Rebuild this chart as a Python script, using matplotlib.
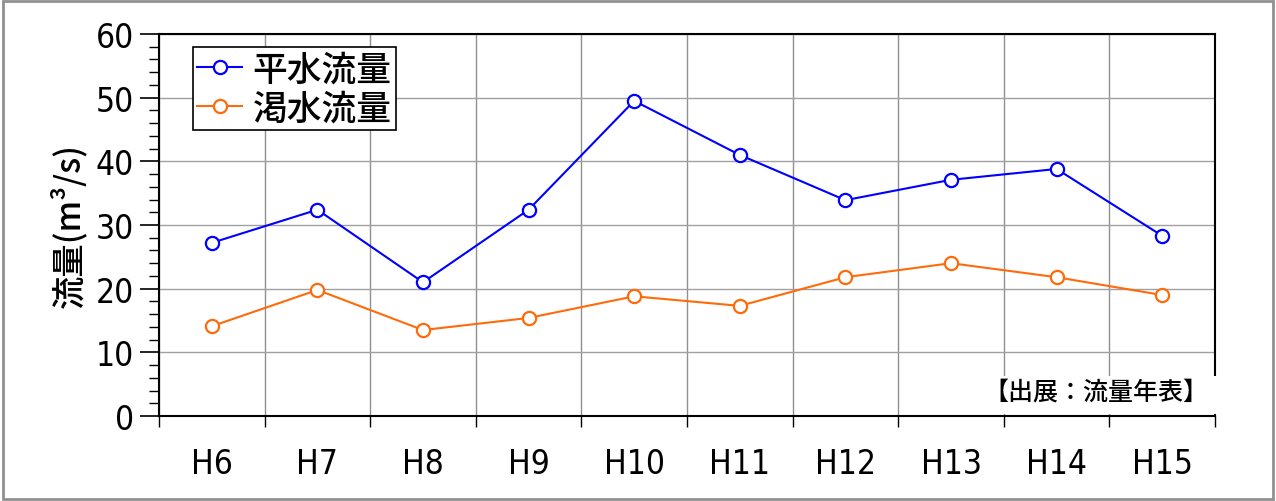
import numpy as np
import matplotlib
matplotlib.use("Agg")
import matplotlib.pyplot as plt
from matplotlib.ticker import MultipleLocator, FixedLocator

plt.rcParams['font.family'] = ['DejaVu Sans', 'Noto Sans CJK JP']
plt.rcParams['font.stretch'] = 'condensed'

years = ["H6", "H7", "H8", "H9", "H10", "H11", "H12", "H13", "H14", "H15"]
heisui = [27.2, 32.4, 21.0, 32.4, 49.5, 41.0, 33.9, 37.1, 38.8, 28.3]
kassui = [14.1, 19.8, 13.5, 15.4, 18.8, 17.3, 21.8, 24.0, 21.8, 19.0]

fig = plt.figure(figsize=(12.76, 5.02), dpi=100)
ax = fig.add_axes([159 / 1276, 1 - 417 / 502, (1215 - 159) / 1276, (417 - 35) / 502])

x = np.arange(len(years))
ax.plot(x, heisui, color="#0000ff", lw=1.5, marker="o", ms=9.5, mfc="white",
        mec="#0000ff", mew=1.6, label="平水流量", zorder=3)
ax.plot(x, kassui, color="#ff6a0a", lw=1.5, marker="o", ms=9.5, mfc="white",
        mec="#ff6a0a", mew=1.6, label="渇水流量", zorder=3)

ax.set_xlim(-0.5, len(years) - 0.5)
ax.set_ylim(0, 60)
ax.yaxis.set_major_locator(MultipleLocator(10))
ax.yaxis.set_minor_locator(MultipleLocator(2))
ax.xaxis.set_major_locator(FixedLocator(x))
ax.xaxis.set_minor_locator(FixedLocator(np.arange(len(years) + 1) - 0.5))
ax.set_xticklabels(years)

ax.tick_params(axis="y", which="major", direction="out", length=14, width=1.2,
               labelsize=24, pad=4)
ax.tick_params(axis="y", which="minor", direction="out", length=7, width=1.0)
ax.tick_params(axis="x", which="major", length=0, labelsize=24, pad=22)
ax.tick_params(axis="x", which="minor", direction="out", length=8, width=1.0)

ax.grid(True, which="major", axis="y", color="#a0a0a0", lw=1.0)
ax.grid(True, which="minor", axis="x", color="#909090", lw=1.0)
ax.set_axisbelow(True)
for s in ax.spines.values():
    s.set_linewidth(1.5)
    s.set_color("black")

ax.set_ylabel("流量(m³/s)", fontsize=24, family=['Noto Sans CJK JP', 'DejaVu Sans'],
              fontweight="medium", labelpad=6)

leg = ax.legend(loc="upper left", bbox_to_anchor=(0.032, 0.965),
                prop={'family': ['Noto Sans CJK JP'], 'size': 25, 'weight': 'medium'},
                fancybox=False, edgecolor="black", framealpha=1,
                borderpad=0.12, labelspacing=0.08, handlelength=1.3,
                handletextpad=0.3, borderaxespad=0)
leg.get_frame().set_linewidth(1.2)

# white patch behind the source note, covering the right spine like the original
ax.add_patch(plt.Rectangle((0.787, 0.006), 0.218, 0.1, transform=ax.transAxes,
                           facecolor="white", edgecolor="none", clip_on=False, zorder=4))
ax.text(0.994, 0.065, "【出展：流量年表】", transform=ax.transAxes, ha="right", va="center",
        fontsize=18, family=['Noto Sans CJK JP'], fontweight="medium", zorder=5)

fig.patches.append(plt.Rectangle((0.002, 0.004), 0.996, 0.992, transform=fig.transFigure,
                                 fill=False, edgecolor="#909090", lw=2))

fig.savefig("out.png", dpi=100)
